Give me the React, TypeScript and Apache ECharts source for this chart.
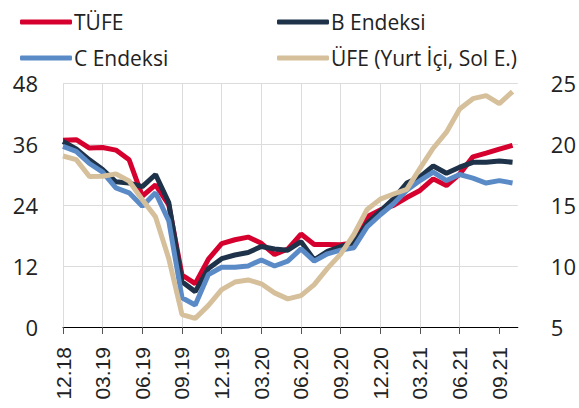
import React, { useEffect, useRef } from 'react';
import * as echarts from 'echarts';

const months = [
  '12.18', '01.19', '02.19', '03.19', '04.19', '05.19', '06.19', '07.19', '08.19', '09.19', '10.19', '11.19',
  '12.19', '01.20', '02.20', '03.20', '04.20', '05.20', '06.20', '07.20', '08.20', '09.20', '10.20', '11.20',
  '12.20', '01.21', '02.21', '03.21', '04.21', '05.21', '06.21', '07.21', '08.21', '09.21', '10.21',
];

const tufe = [
  20.30, 20.35, 19.67, 19.71, 19.50, 18.71, 15.72, 16.65, 15.01, 9.26, 8.55, 10.56,
  11.84, 12.15, 12.37, 11.86, 10.94, 11.39, 12.62, 11.76, 11.77, 11.75, 11.89, 14.03,
  14.60, 14.97, 15.61, 16.19, 17.14, 16.59, 17.53, 18.95, 19.25, 19.58, 19.89,
];

const bEndeksi = [
  20.2, 19.6, 18.7, 17.9, 16.9, 16.8, 16.5, 17.5, 15.2, 8.7, 7.9, 9.8,
  10.6, 10.9, 11.1, 11.6, 11.4, 11.3, 12.0, 10.5, 11.2, 11.6, 11.9, 13.5,
  14.5, 15.5, 16.8, 17.3, 18.2, 17.6, 18.1, 18.5, 18.5, 18.6, 18.5,
];

const cEndeksi = [
  19.8, 19.4, 18.4, 17.7, 16.4, 16.0, 14.9, 16.0, 13.7, 7.4, 6.8, 9.3,
  9.9, 9.9, 10.0, 10.5, 10.0, 10.4, 11.4, 10.4, 11.0, 11.3, 11.5, 13.2,
  14.2, 15.1, 16.2, 17.0, 17.7, 17.0, 17.5, 17.2, 16.8, 17.0, 16.8,
];

const ufe = [
  33.64, 32.93, 29.59, 29.64, 30.12, 28.71, 25.04, 21.66, 13.45, 2.45, 1.70, 4.26,
  7.36, 8.84, 9.26, 8.50, 6.71, 5.53, 6.17, 8.33, 11.53, 14.33, 18.20, 23.11,
  25.15, 26.16, 27.09, 31.20, 35.17, 38.33, 42.89, 44.92, 45.52, 43.96, 46.31,
];

const seriesNames = ['TÜFE', 'B Endeksi', 'C Endeksi', 'ÜFE (Yurt İçi, Sol E.)'];
const seriesColors = ['#d5002e', '#1e3249', '#5b8bc7', '#d6c09b'];

export default function App() {
  const ref = useRef<HTMLDivElement>(null);

  useEffect(() => {
    const chart = echarts.init(ref.current as HTMLDivElement, null, { renderer: 'svg' });
    const toPairs = (arr: number[]) => arr.map((v, i) => [i, v]);
    const tickIdx = months.map((_, i) => i).filter((i) => i % 3 === 0);

    const legendCommon = {
      icon: 'roundRect',
      itemWidth: 52,
      itemHeight: 5,
      padding: 0,
      selectedMode: false,
      textStyle: {
        fontFamily: 'Open Sans',
        fontSize: 21,
        color: '#222',
        lineHeight: 24,
        padding: [0, 0, 0, -3],
      },
    };

    const datasets = [tufe, bEndeksi, cEndeksi, ufe];

    chart.setOption({
      animation: false,
      backgroundColor: '#fff',
      legend: [
        { ...legendCommon, data: [seriesNames[0]], left: 20, top: 10 },
        { ...legendCommon, data: [seriesNames[1]], left: 277, top: 10 },
        { ...legendCommon, data: [seriesNames[2]], left: 20, top: 46 },
        { ...legendCommon, data: [seriesNames[3]], left: 277, top: 46 },
      ],
      grid: { left: 63, right: 54, top: 83, bottom: 81, containLabel: false },
      xAxis: {
        type: 'value',
        min: 0,
        max: 34.4,
        interval: 3,
        axisLine: { show: true, onZero: false, lineStyle: { color: '#000', width: 1 } },
        axisTick: {
          show: true,
          length: 7,
          customValues: tickIdx,
          lineStyle: { color: '#555' },
        },
        axisLabel: {
          customValues: tickIdx,
          rotate: 90,
          margin: 20,
          fontFamily: 'Liberation Sans',
          fontSize: 21,
          color: '#222',
          formatter: (v: number) => (Number.isInteger(v) && v % 3 === 0 ? months[v] ?? '' : ''),
        },
        splitLine: { show: true, showMaxLine: false, lineStyle: { color: '#dcdcdc', width: 1 } },
      },
      yAxis: [
        {
          type: 'value',
          position: 'left',
          min: 0,
          max: 48,
          interval: 12,
          axisLine: { show: false },
          axisTick: { show: false },
          axisLabel: { margin: 25, fontFamily: 'Open Sans', fontSize: 22, color: '#222' },
          splitLine: { show: true, lineStyle: { color: '#dcdcdc', width: 1 } },
        },
        {
          type: 'value',
          position: 'right',
          min: 5,
          max: 25,
          interval: 5,
          axisLine: { show: false },
          axisTick: { show: false },
          axisLabel: { margin: 33, fontFamily: 'Open Sans', fontSize: 22, color: '#222' },
          splitLine: { show: false },
        },
      ],
      series: datasets.map((d, k) => ({
        name: seriesNames[k],
        type: 'line',
        yAxisIndex: k === 3 ? 0 : 1,
        data: toPairs(d),
        showSymbol: false,
        symbol: 'none',
        color: seriesColors[k],
        lineStyle: { width: 5, color: seriesColors[k] },
        z: 2 + k,
      })),
    });

    return () => chart.dispose();
  }, []);

  return <div ref={ref} style={{ position: 'fixed', left: 0, top: 0, width: 579, height: 408 }} />;
}
